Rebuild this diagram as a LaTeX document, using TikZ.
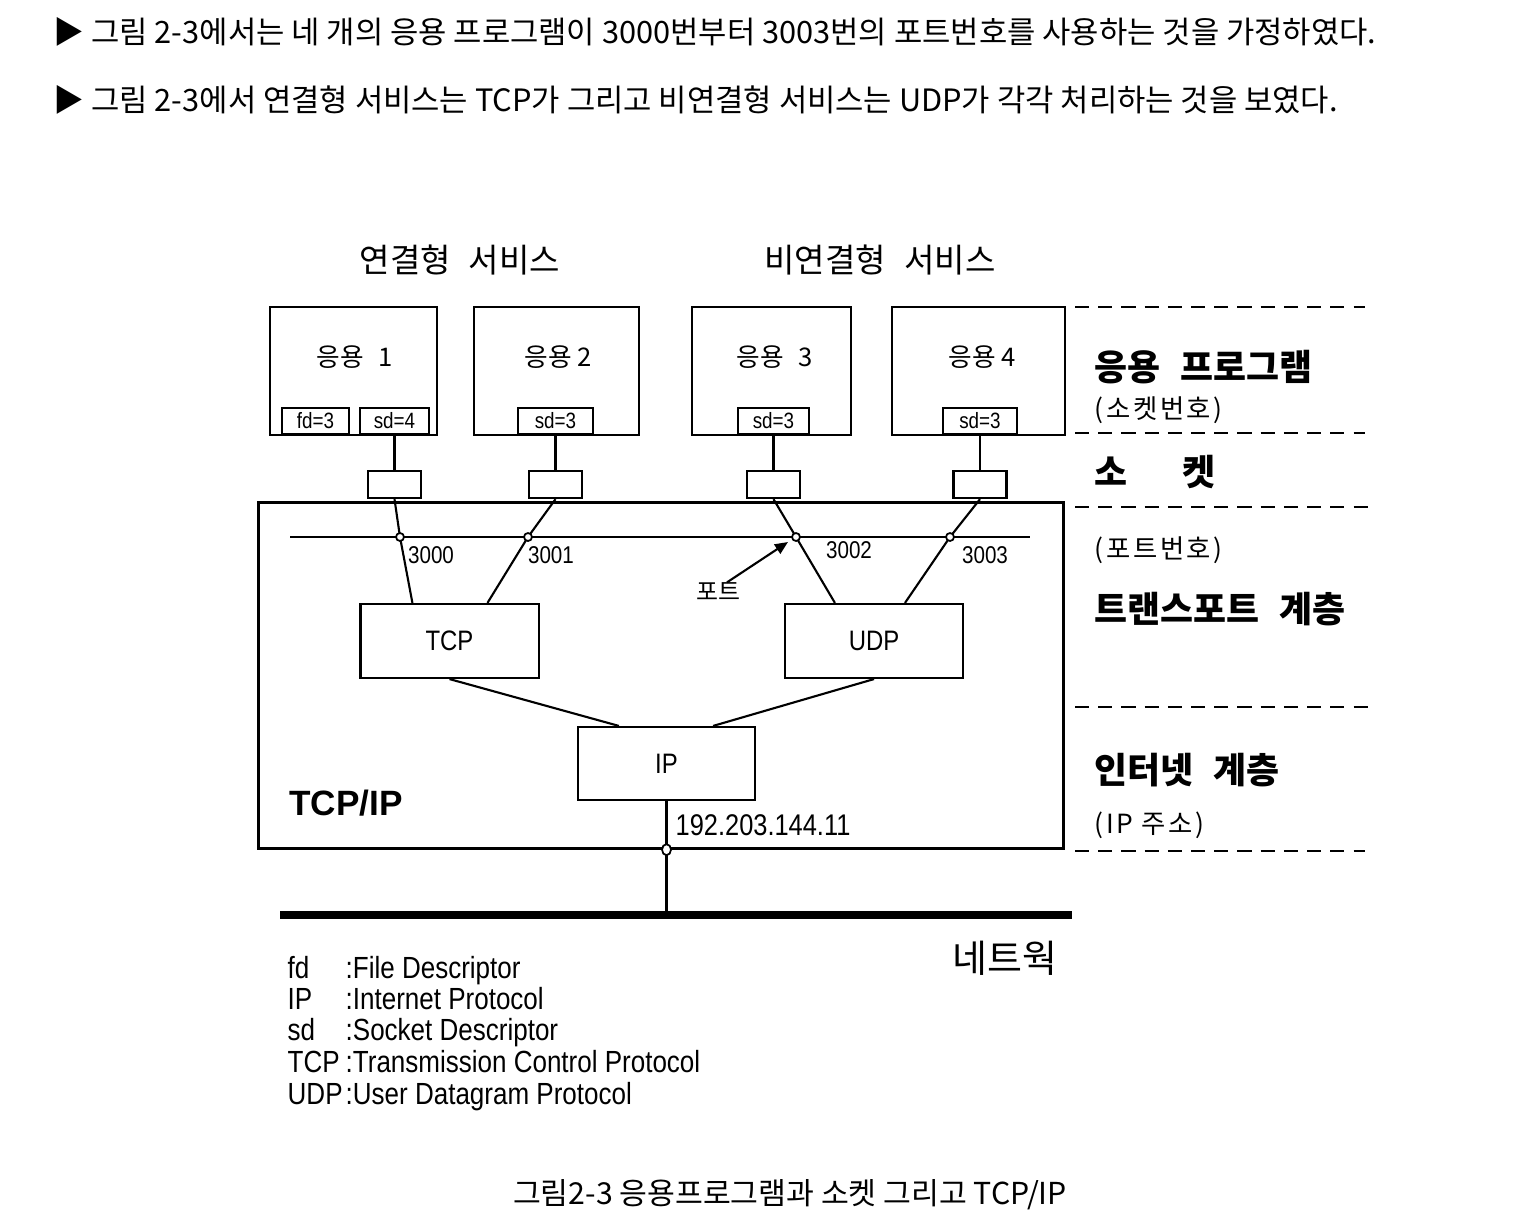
\documentclass[tikz,border=0pt]{standalone}
\usepackage{fontspec}
\setmainfont{Noto Sans CJK KR}
\newfontfamily\spacedfont[LetterSpace=10]{Noto Sans CJK KR}
\newfontfamily\narrowfont[FakeStretch=0.85]{Liberation Sans}
\newfontfamily\latinfont{Liberation Sans}
\usetikzlibrary{positioning,arrows.meta,shapes.geometric}

\begin{document}
\begin{tikzpicture}[
			x=0.01cm, y=-0.01cm,
			>={Triangle[length=0.13cm, width=0.11cm]},
			% Define styles for the boxes and labels
			box/.style={rectangle, draw, line width=0.6pt, inner sep=0pt},
			appbox/.style={box, minimum height=1.28cm},
			sdbox/.style={box, minimum height=0.26cm, font=\narrowfont\fontsize{6.3}{7}\selectfont},
			sockbox/.style={box, minimum width=0.53cm, minimum height=0.27cm},
			protobox/.style={box, minimum width=1.78cm, minimum height=0.74cm, font=\narrowfont\fontsize{8}{9}\selectfont},
			port/.style={circle, draw, fill=white, line width=0.5pt, inner sep=0pt, minimum size=0.08cm},
			wire/.style={line width=0.6pt},
			txt/.style={inner sep=0pt},
			applabel/.style={txt, font=\rmfamily\fontsize{7.3}{8}\selectfont},
			portnum/.style={txt, font=\narrowfont\fontsize{6.9}{8}\selectfont},
			svclabel/.style={txt, font=\rmfamily\fontsize{9.4}{11}\selectfont},
			layerline/.style={line width=0.6pt, dash pattern=on 4pt off 2.6pt},
			layertitle/.style={txt, anchor=west, font=\rmfamily\bfseries\fontsize{10.2}{12}\selectfont},
			layernote/.style={txt, anchor=west, font=\spacedfont\fontsize{7.5}{8}\selectfont},
			legend/.style={txt, anchor=base west, font=\narrowfont\fontsize{8.7}{9}\selectfont},
			bodytext/.style={txt, font=\rmfamily\fontsize{8.75}{10}\selectfont}
			]
			\useasboundingbox (0,0) rectangle (1524,1224);
			
			% --- Text above the figure ---
			\node (intro1) [bodytext, anchor=west] at (53,32) {▶ 그림 2-3에서는 네 개의 응용 프로그램이 3000번부터 3003번의 포트번호를 사용하는 것을 가정하였다.};
			\node (intro2) [bodytext, anchor=west] at (53,100) {▶ 그림 2-3에서 연결형 서비스는 TCP가 그리고 비연결형 서비스는 UDP가 각각 처리하는 것을 보였다.};
			
			\node (conn) [svclabel] at (460,260) {연결형\hspace{0.18cm}서비스};
			\node (connless) [svclabel] at (880,260) {비연결형\hspace{0.18cm}서비스};
			
			% --- Applications ---
			\node (app1) [appbox, minimum width=1.67cm] at (353.5,371) {};
			\node (app2) [appbox, minimum width=1.65cm] at (556.5,371) {};
			\node (app3) [appbox, minimum width=1.59cm] at (771.5,371) {};
			\node (app4) [appbox, minimum width=1.73cm] at (978.5,371) {};
			
			\node (app1txt) [applabel] at (355,357) {응용\hspace{0.15cm}1};
			\node (app2txt) [applabel] at (558,357) {응용 2};
			\node (app3txt) [applabel] at (775,357) {응용\hspace{0.15cm}3};
			\node (app4txt) [applabel] at (982,357) {응용 4};
			
			\node (fd1) [sdbox, anchor=south, minimum width=0.67cm] at (315.5,435) {fd=3};
			\node (sd1) [sdbox, anchor=south, minimum width=0.69cm] at (394.5,435) {sd=4};
			\node (sd2) [sdbox, anchor=south, minimum width=0.75cm] at (555.5,435) {sd=3};
			\node (sd3) [sdbox, anchor=south, minimum width=0.71cm] at (773.5,435) {sd=3};
			\node (sd4) [sdbox, anchor=south, minimum width=0.74cm] at (980,435) {sd=3};
			
			% --- Sockets ---
			\node (sock1) [sockbox, below=0.35cm of sd1] {};
			\node (sock2) [sockbox, below=0.35cm of sd2] {};
			\node (sock3) [sockbox, below=0.35cm of sd3] {};
			\node (sock4) [sockbox, below=0.35cm of sd4] {};
			
			\draw[wire] (sd1.south) -- (sock1.north);
			\draw[wire] (sd2.south) -- (sock2.north);
			\draw[wire] (sd3.south) -- (sock3.north);
			\draw[wire] (sd4.south) -- (sock4.north);
			
			% --- TCP/IP block ---
			\node (tcpip) [box, line width=0.9pt, minimum width=8.04cm, minimum height=3.45cm] at (661,675.5) {};
			\node (tcpiptxt) [txt, font=\latinfont\bfseries\fontsize{10}{12}\selectfont] at (346,803) {TCP/IP};
			
			\node (tcp) [protobox] at (449.5,641) {TCP};
			\node (udp) [protobox] at (874,641) {UDP};
			\node (ip) [protobox, minimum width=1.77cm, minimum height=0.73cm] at (666.5,763.5) {IP};
			
			\coordinate (portL) at (290,537);
			\coordinate (portR) at (1030,537);
			\coordinate (p1) at (400,537);
			\coordinate (p2) at (528,537);
			\coordinate (p3) at (796,537);
			\coordinate (p4) at (950,537);
			\draw[wire] (portL) -- (portR);
			
			% Socket -> port -> transport
			\draw[wire] (sock1.south) -- (p1) -- ([xshift=0.53cm]tcp.north west);
			\draw[wire] (sock2.south) -- (p2) -- ([xshift=1.28cm]tcp.north west);
			\draw[wire] (sock3.south) -- (p3) -- ([xshift=0.51cm]udp.north west);
			\draw[wire] (sock4.south) -- (p4) -- ([xshift=1.21cm]udp.north west);
			
			\node (port1) [port] at (p1) {};
			\node (port2) [port] at (p2) {};
			\node (port3) [port] at (p3) {};
			\node (port4) [port] at (p4) {};
			
			\node (num1) [portnum] at (431,555) {3000};
			\node (num2) [portnum] at (551,555) {3001};
			\node (num3) [portnum] at (849,550) {3002};
			\node (num4) [portnum] at (985,555) {3003};
			
			\node (porttxt) [txt, font=\rmfamily\fontsize{6.8}{8}\selectfont] at (718,592) {포트};
			\coordinate (porthead) at (788,542);
			\draw[wire, ->] ([xshift=0.09cm]porttxt.north) -- (porthead);
			
			% Transport -> IP
			\draw[wire] (tcp.south) -- ([xshift=0.42cm]ip.north west);
			\draw[wire] (udp.south) -- ([xshift=-0.43cm]ip.north east);
			
			\node (addr) [txt, anchor=west, font=\narrowfont\fontsize{8.5}{9}\selectfont] at (675,825) {192.203.144.11};
			
			% --- Network ---
			\coordinate (netL) at (280,915);
			\coordinate (netR) at (1072,915);
			\draw[line width=0.85pt] (ip.south) -- (ip.south |- netL);
			\node (nic) [ellipse, draw, fill=white, line width=0.5pt, inner sep=0pt, minimum width=0.09cm, minimum height=0.11cm] at (ip.south |- tcpip.south) {};
			\draw[line width=2.3pt] (netL) -- (netR);
			\node (net) [txt, font=\rmfamily\fontsize{10.8}{12}\selectfont] at (1005,958) {네트웍};
			
			% --- Layers on the right ---
			\draw[layerline] (1075,307) -- (1365,307);
			\draw[layerline] (1075,433) -- (1365,433);
			\draw[layerline] (1075,507) -- (1375,507);
			\draw[layerline] (1075,707) -- (1375,707);
			\draw[layerline] (1075,851) -- (1365,851);
			
			\node (layapp) [layertitle] at (1094,367) {응용\hspace{0.2cm}프로그램};
			\node (laysockno) [layernote] at (1094,410) {(소켓번호)};
			\node (laysock) [layertitle] at (1094,472) {소\hspace{0.55cm}켓};
			\node (layportno) [layernote] at (1094,550) {(포트번호)};
			\node (laytrans) [layertitle] at (1094,609) {트랜스포트\hspace{0.2cm}계층};
			\node (layinet) [layertitle] at (1094,770) {인터넷\hspace{0.2cm}계층};
			\node (layaddr) [layernote] at (1094,825) {(IP 주소)};
			
			% --- Legend ---
			\node (lg1) [legend] at (287,978) {fd};
			\node (lg2) [legend] at (287,1009) {IP};
			\node (lg3) [legend] at (287,1040) {sd};
			\node (lg4) [legend] at (287,1072) {TCP};
			\node (lg5) [legend] at (287,1104) {UDP};
			\node (lg1txt) [legend] at (345,978) {:File Descriptor};
			\node (lg2txt) [legend] at (345,1009) {:Internet Protocol};
			\node (lg3txt) [legend] at (345,1040) {:Socket Descriptor};
			\node (lg4txt) [legend] at (345,1072) {:Transmission Control Protocol};
			\node (lg5txt) [legend] at (345,1104) {:User Datagram Protocol};
			
			% --- Caption ---
			\node (caption) [bodytext, font=\rmfamily\fontsize{8.6}{10}\selectfont] at (790,1195) {그림2-3 응용프로그램과 소켓 그리고 TCP/IP};
			
		\end{tikzpicture}
\end{document}
